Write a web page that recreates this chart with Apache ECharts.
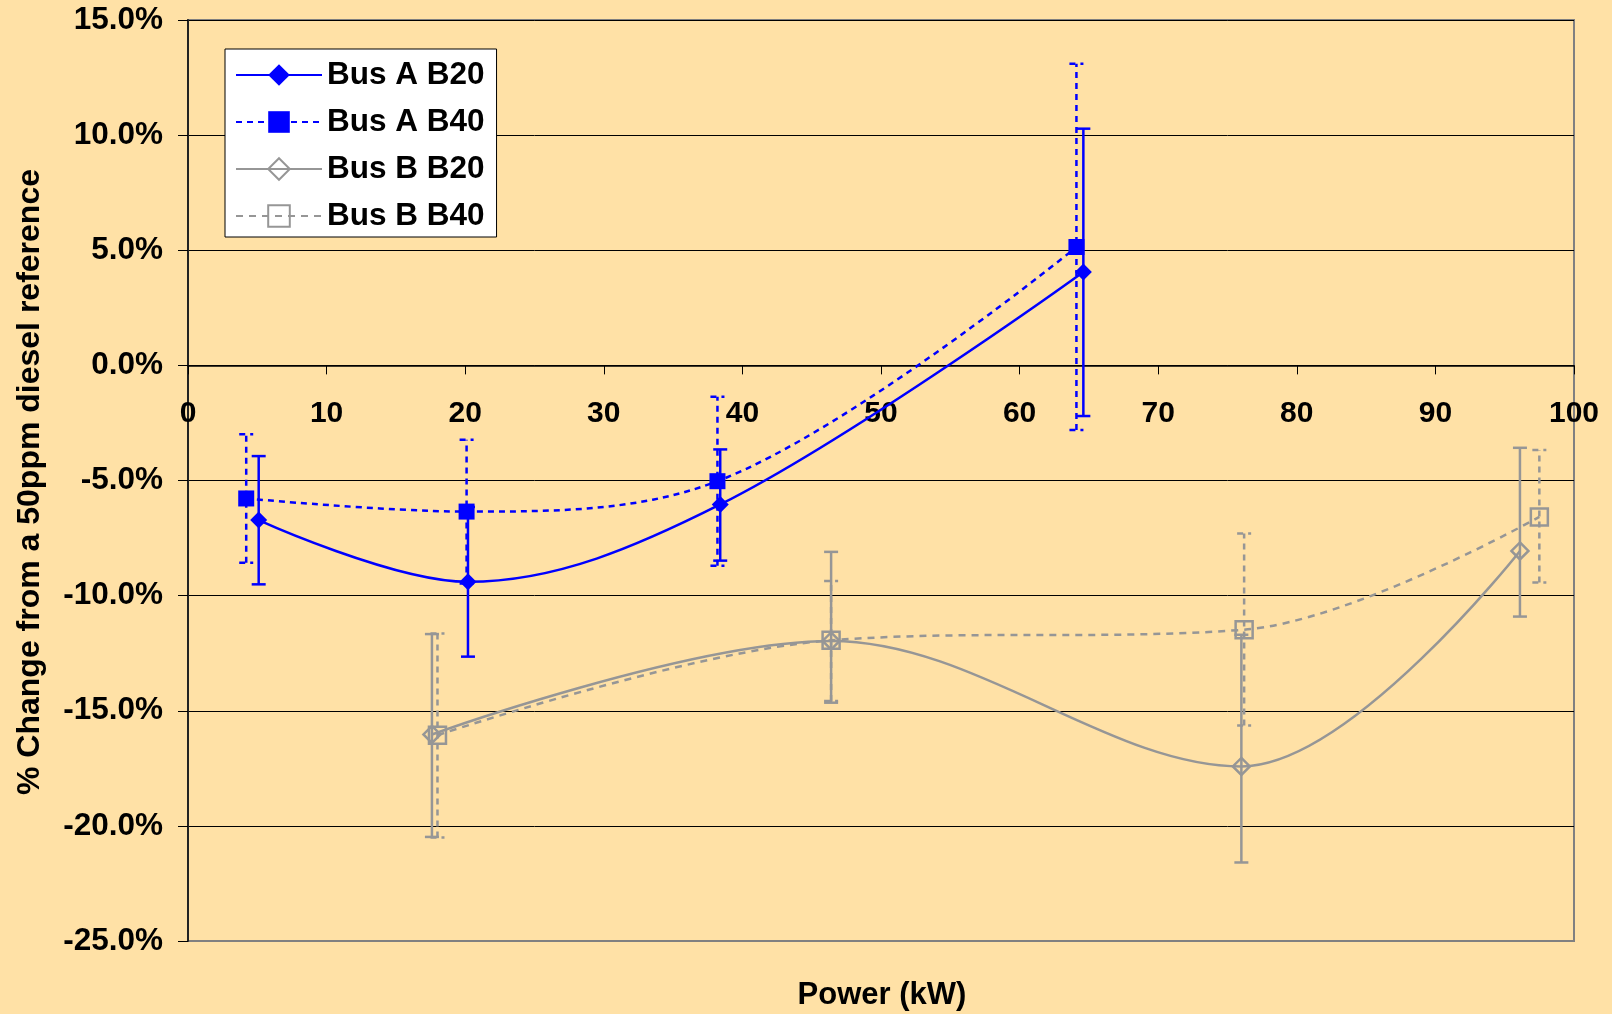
<!DOCTYPE html>
<html><head><meta charset="utf-8">
<script src="https://cdn.jsdelivr.net/npm/echarts@6/dist/echarts.min.js"></script>
<style>html,body{margin:0;padding:0;background:#FFE1A6}#c{width:1612px;height:1014px}</style>
</head><body><div id="c"></div>
<script>
const seriesNames = ['Bus A B20', 'Bus A B40', 'Bus B B20', 'Bus B B40'];

const busAB20X    = [5.1, 20.2, 38.4, 64.6];
const busAB20Y    = [-6.72, -9.40, -6.04, 4.06];
const busAB20Low  = [-9.51, -12.65, -8.48, -2.20];
const busAB20High = [-3.94, -6.15, -3.65, 10.28];

const busAB40X    = [4.2, 20.1, 38.2, 64.1];
const busAB40Y    = [-5.78, -6.35, -5.03, 5.14];
const busAB40Low  = [-8.57, -9.47, -8.70, -2.81];
const busAB40High = [-2.99, -3.23, -1.36, 13.10];

const busBB20X    = [17.6, 46.4, 76.0, 96.1];
const busBB20Y    = [-16.03, -11.97, -17.42, -8.06];
const busBB20Low  = [-20.48, -14.65, -21.59, -10.91];
const busBB20High = [-11.67, -8.10, -11.70, -3.58];

const busBB40X    = [18.0, 46.4, 76.2, 97.5];
const busBB40Y    = [-16.06, -11.94, -11.48, -6.58];
const busBB40Low  = [-20.50, -14.58, -15.64, -9.43];
const busBB40High = [-11.64, -9.36, -7.30, -3.68];

const xAxisMin = 0, xAxisMax = 100, xAxisStep = 10;
const yAxisMin = -25, yAxisMax = 15, yAxisStep = 5;
const xAxisTitle = 'Power (kW)';
const yAxisTitle = '% Change from a 50ppm diesel reference';

const BLUE = '#0000FF', GRAY = '#969696';
const FONT = '"Liberation Sans", Arial, sans-serif';

const GRID_TOP = 20, GRID_BOTTOM = 73, CHART_H = 1014;
const plotH = CHART_H - GRID_TOP - GRID_BOTTOM;
// distance from the plot bottom edge up to the y = 0 line
const zeroOffset = plotH * (0 - yAxisMin) / (yAxisMax - yAxisMin);

function pts(xs, ys) { return xs.map((x, i) => [x, ys[i]]); }
function errs(xs, lo, hi) { return xs.map((x, i) => [x, lo[i], hi[i]]); }

function errorBars(color, dash) {
  return function (params, api) {
    const x = api.value(0), lo = api.value(1), hi = api.value(2);
    const a = api.coord([x, lo]), b = api.coord([x, hi]);
    const w = 7;
    const mk = () => {
      const s = { stroke: color, lineWidth: 2.5, fill: null };
      if (dash) s.lineDash = dash;
      return s;
    };
    return {
      type: 'group',
      children: [
        { type: 'line', shape: { x1: a[0], y1: a[1], x2: b[0], y2: b[1] }, style: mk() },
        { type: 'line', shape: { x1: a[0] - w, y1: a[1], x2: a[0] + w, y2: a[1] }, style: mk() },
        { type: 'line', shape: { x1: b[0] - w, y1: b[1], x2: b[0] + w, y2: b[1] }, style: mk() }
      ]
    };
  };
}

function errSeries(name, data, color, dash) {
  return {
    name: name + ' err', type: 'custom', data: data,
    encode: { x: 0, y: [1, 2] }, renderItem: errorBars(color, dash),
    clip: false, z: 1, silent: true
  };
}

const chart = echarts.init(document.getElementById('c'));
const ySplitColors = [];
for (let v = yAxisMin; v <= yAxisMax; v += yAxisStep) ySplitColors.push(v === yAxisMin ? '#808080' : '#000000');

chart.setOption({
  backgroundColor: '#FFE1A6',
  animation: false,
  grid: { left: 188, right: 38, top: GRID_TOP, bottom: GRID_BOTTOM, show: true, borderColor: '#808080', borderWidth: 2, backgroundColor: 'transparent' },
  xAxis: {
    type: 'value', min: xAxisMin, max: xAxisMax, interval: xAxisStep,
    position: 'bottom', offset: -zeroOffset,
    axisLine: { onZero: false, lineStyle: { color: '#000', width: 1.5 } },
    axisTick: { show: true, inside: false, length: 9, lineStyle: { color: '#000', width: 1 } },
    axisLabel: { margin: 33, color: '#000', fontSize: 30, fontWeight: 'bold', fontFamily: FONT },
    splitLine: { show: false }
  },
  yAxis: {
    type: 'value', min: yAxisMin, max: yAxisMax, interval: yAxisStep,
    axisLine: { show: true, onZero: false, lineStyle: { color: '#222', width: 2 } },
    axisTick: { show: true, inside: false, length: 10, lineStyle: { color: '#000', width: 1 } },
    axisLabel: { margin: 25, color: '#000', fontSize: 31.5, fontWeight: 'bold', fontFamily: FONT,
      formatter: v => v.toFixed(1) + '%' },
    splitLine: { show: true, lineStyle: { color: ySplitColors, width: 1 } }
  },
  legend: {
    data: seriesNames, orient: 'vertical', left: 225, top: 49,
    backgroundColor: '#FFFFFF', borderColor: '#000', borderWidth: 1, borderRadius: 0,
    padding: [10, 12, 5, 10], itemWidth: 86, itemHeight: 27, itemGap: 15,
    selectedMode: false,
    textStyle: { color: '#000', fontSize: 31.5, fontWeight: 'bold', fontFamily: FONT }
  },
  graphic: [
    { type: 'text', x: 30, y: 482, rotation: Math.PI / 2,
      style: { text: yAxisTitle, fill: '#000', font: 'bold 32px ' + FONT, textAlign: 'center', textVerticalAlign: 'middle' } },
    { type: 'text', x: 882, y: 995,
      style: { text: xAxisTitle, fill: '#000', font: 'bold 31px ' + FONT, textAlign: 'center', textVerticalAlign: 'middle' } }
  ],
  series: [
    errSeries('Bus A B20', errs(busAB20X, busAB20Low, busAB20High), BLUE, null),
    errSeries('Bus A B40', errs(busAB40X, busAB40Low, busAB40High), BLUE, [6, 5]),
    errSeries('Bus B B20', errs(busBB20X, busBB20Low, busBB20High), GRAY, null),
    errSeries('Bus B B40', errs(busBB40X, busBB40Low, busBB40High), GRAY, [6, 5]),
    { name: 'Bus A B20', type: 'line', data: pts(busAB20X, busAB20Y), smooth: 0.35,
      symbol: 'diamond', symbolSize: 17, z: 3,
      lineStyle: { color: BLUE, width: 2.5 }, itemStyle: { color: BLUE } },
    { name: 'Bus A B40', type: 'line', data: pts(busAB40X, busAB40Y), smooth: 0.35,
      symbol: 'rect', symbolSize: 16, z: 3,
      lineStyle: { color: BLUE, width: 2.5, type: [6, 5] }, itemStyle: { color: BLUE } },
    { name: 'Bus B B20', type: 'line', data: pts(busBB20X, busBB20Y), smooth: 0.35,
      symbol: 'diamond', symbolSize: 17, z: 3,
      lineStyle: { color: GRAY, width: 2.5 },
      itemStyle: { color: 'rgba(0,0,0,0)', borderColor: GRAY, borderWidth: 2.5 } },
    { name: 'Bus B B40', type: 'line', data: pts(busBB40X, busBB40Y), smooth: 0.35,
      symbol: 'rect', symbolSize: 17, z: 3,
      lineStyle: { color: GRAY, width: 2.5, type: [7, 6] },
      itemStyle: { color: 'rgba(0,0,0,0)', borderColor: GRAY, borderWidth: 2.5 } }
  ]
});
</script>
</body></html>
